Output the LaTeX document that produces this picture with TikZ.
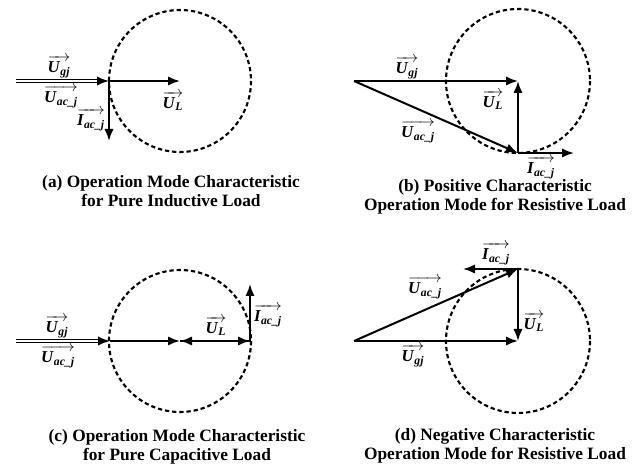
\documentclass[tikz,border=0pt]{standalone}
\usepackage{amsmath}
\usepackage{fontspec}
\setmainfont{Liberation Serif}
\usetikzlibrary{arrows.meta}

\newcommand{\phasor}[2]{$\overrightarrow{\textbf{\textit{#1}}_{\textbf{\textit{#2}}}}$}

\tikzset{
  ring/.style={dash pattern=on 3.2pt off 2.2pt, line width=1.6pt},
  vec/.style={-{Latex[length=9pt,width=7pt]}, line width=1.5pt},
  dvec/.style={-{Latex[length=9pt,width=7pt]}, double, double distance=0.9pt, line width=1.2pt},
  lbl/.style={inner sep=0.75pt, font=\fontsize{12.5}{13}\selectfont},
  capt/.style={align=center, font=\fontsize{13}{13.8}\selectfont\bfseries}
}

\begin{document}
\begin{tikzpicture}[x=0.75pt,y=0.75pt,yscale=-1,xscale=1]
\useasboundingbox (0,0) rectangle (632,470);
% (a) pure inductive load
\coordinate (Oa) at (16,81);
\coordinate (Pa) at (109,81);
\coordinate (Ca) at (180,81);
\coordinate (Ia) at (109,141);
%Shape: Circle
\draw [ring] (Ca) circle [radius=71];
%Straight Lines
\draw [dvec] (Oa) -- (Pa);
\draw [vec] (Pa) -- (Ca);
\draw [vec] (Pa) -- (Ia);
% Text Node
\draw (59,67) node (ugja) [lbl] {\phasor{U}{gj}};
\draw (61,97) node (uaca) [lbl] {\phasor{U}{ac\_j}};
\draw (91,120) node (iaca) [lbl] {\phasor{I}{ac\_j}};
\draw (173,101) node (ula) [lbl] {\phasor{U}{L}};
\draw (171,191) node (capa) [capt] {(a) Operation Mode Characteristic\\for Pure Inductive Load};

% (b) positive characteristic, resistive load
\coordinate (Ob) at (354,81);
\coordinate (Cb) at (518,81);
\coordinate (Bb) at (518,153);
\coordinate (Ib) at (574,153);
%Shape: Circle
\draw [ring] (Cb) circle [radius=72];
%Straight Lines
\draw [vec] (Ob) -- (Cb);
\draw [vec] (Ob) -- (Bb);
\draw [vec] (Bb) -- (Cb);
\draw [vec] (Bb) -- (Ib);
% Text Node
\draw (407,68) node (ugjb) [lbl] {\phasor{U}{gj}};
\draw (493,100) node (ulb) [lbl] {\phasor{U}{L}};
\draw (418,132) node (uacb) [lbl] {\phasor{U}{ac\_j}};
\draw (541,168) node (iacb) [lbl] {\phasor{I}{ac\_j}};
\draw (495,197) node (capb) [capt] {(b) Positive Characteristic\\Operation Mode for Resistive Load};

% (c) pure capacitive load
\coordinate (Oc) at (16,341);
\coordinate (Pc) at (110,341);
\coordinate (Cc) at (180,341);
\coordinate (Rc) at (250,341);
\coordinate (Ic) at (250,284);
%Shape: Circle
\draw [ring] (Cc) circle [radius=71];
%Straight Lines
\draw [dvec] (Oc) -- (Pc);
\draw [vec] (Pc) -- (Cc);
\draw [vec] (Rc) -- (Cc);
\draw [vec] (Cc) -- (Rc);
\draw [vec] (Rc) -- (Ic);
% Text Node
\draw (57,327) node (ugjc) [lbl] {\phasor{U}{gj}};
\draw (58,357) node (uacc) [lbl] {\phasor{U}{ac\_j}};
\draw (216,326) node (ulc) [lbl] {\phasor{U}{L}};
\draw (268,316) node (iacc) [lbl] {\phasor{I}{ac\_j}};
\draw (177,447) node (capc) [capt] {(c) Operation Mode Characteristic\\for Pure Capacitive Load};

% (d) negative characteristic, resistive load
\coordinate (Od) at (354,341);
\coordinate (Cd) at (518,341);
\coordinate (Td) at (518,269);
\coordinate (Id) at (463,269);
%Shape: Circle
\draw [ring] (Cd) circle [radius=72];
%Straight Lines
\draw [vec] (Od) -- (Cd);
\draw [vec] (Od) -- (Td);
\draw [vec] (Td) -- (Cd);
\draw [vec] (Td) -- (Id);
% Text Node
\draw (496,254) node (iacd) [lbl] {\phasor{I}{ac\_j}};
\draw (425,288) node (uacd) [lbl] {\phasor{U}{ac\_j}};
\draw (534,322) node (uld) [lbl] {\phasor{U}{L}};
\draw (413,356) node (ugjd) [lbl] {\phasor{U}{gj}};
\draw (495,446) node (capd) [capt] {(d) Negative Characteristic\\Operation Mode for Resistive Load};
\end{tikzpicture}
\end{document}
